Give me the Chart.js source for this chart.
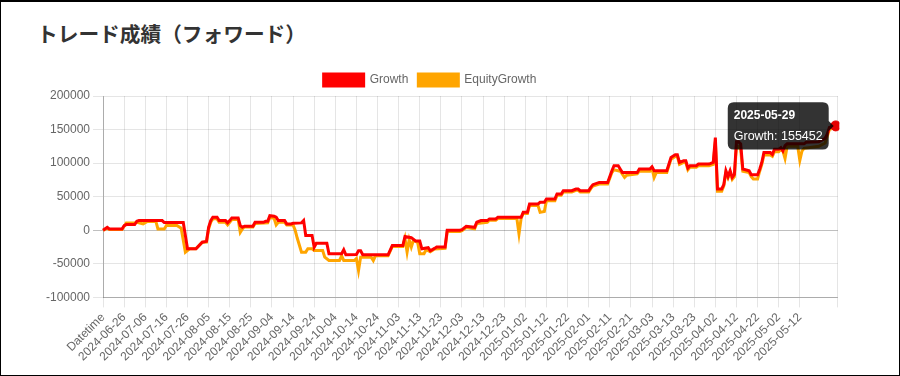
<!DOCTYPE html>
<html>
<head>
<meta charset="utf-8">
<script src="https://cdn.jsdelivr.net/npm/chart.js@4.4.1/dist/chart.umd.min.js"></script>
<style>
  html, body { margin: 0; padding: 0; background: #fff; }
  .frame { position: relative; width: 900px; height: 376px; box-sizing: border-box;
           border: 1px solid #000; border-top-width: 2px; overflow: hidden; }
  h2 { position: absolute; left: 36px; top: 20px; margin: 0; font: bold 20.7px/23px "Noto Sans CJK JP", sans-serif; color: #333; }
  .wrap { position: absolute; left: 42px; top: 62px; width: 808px; height: 303px; }
</style>
</head>
<body>
<div class="frame">
  <h2>トレード成績（フォワード）</h2>
  <div class="wrap"><canvas id="growthChart"></canvas></div>
</div>
<script>
// categories: header row, one row per day, and a trailing empty row
const labels = ['Datetime']
const d = new Date(Date.UTC(2024, 5, 17))
while (d <= new Date(Date.UTC(2025, 4, 29))) {
  labels.push(d.toISOString().slice(0, 10))
  d.setUTCDate(d.getUTCDate() + 1)
}
labels.push('')

// Growth at the points where it changes
const growthDates = ['Datetime',
  '2024-06-18', '2024-06-19', '2024-06-25', '2024-06-26', '2024-06-27', '2024-07-01', '2024-07-02', '2024-07-03',
  '2024-07-14', '2024-07-15', '2024-07-24', '2024-07-26', '2024-07-30', '2024-08-02', '2024-08-04', '2024-08-05',
  '2024-08-06', '2024-08-07', '2024-08-09', '2024-08-10', '2024-08-13', '2024-08-14', '2024-08-15', '2024-08-16',
  '2024-08-19', '2024-08-20', '2024-08-21', '2024-08-22', '2024-08-26', '2024-08-27', '2024-08-31', '2024-09-01',
  '2024-09-02', '2024-09-03', '2024-09-05', '2024-09-06', '2024-09-07', '2024-09-10', '2024-09-11', '2024-09-13',
  '2024-09-14', '2024-09-18', '2024-09-19', '2024-09-20', '2024-09-23', '2024-09-24', '2024-09-25', '2024-09-30',
  '2024-10-01', '2024-10-07', '2024-10-08', '2024-10-09', '2024-10-14', '2024-10-15', '2024-10-16', '2024-10-17',
  '2024-10-29', '2024-10-31', '2024-11-05', '2024-11-06', '2024-11-09', '2024-11-11', '2024-11-13', '2024-11-14',
  '2024-11-17', '2024-11-18', '2024-11-20', '2024-11-21', '2024-11-25', '2024-11-26', '2024-12-02', '2024-12-03',
  '2024-12-05', '2024-12-09', '2024-12-10', '2024-12-12', '2024-12-15', '2024-12-16', '2024-12-19', '2024-12-20',
  '2024-12-31', '2025-01-01', '2025-01-03', '2025-01-04', '2025-01-08', '2025-01-09', '2025-01-11', '2025-01-12',
  '2025-01-16', '2025-01-17', '2025-01-19', '2025-01-20', '2025-01-24', '2025-01-26', '2025-01-27', '2025-01-28',
  '2025-02-01', '2025-02-02', '2025-02-03', '2025-02-06', '2025-02-10', '2025-02-12', '2025-02-13', '2025-02-15',
  '2025-02-16', '2025-02-17', '2025-02-24', '2025-02-25', '2025-03-02', '2025-03-03', '2025-03-04', '2025-03-10',
  '2025-03-12', '2025-03-14', '2025-03-15', '2025-03-16', '2025-03-18', '2025-03-19', '2025-03-20', '2025-03-21',
  '2025-03-24', '2025-03-25', '2025-03-30', '2025-04-01', '2025-04-02', '2025-04-03', '2025-04-05', '2025-04-06',
  '2025-04-07', '2025-04-08', '2025-04-09', '2025-04-10', '2025-04-11', '2025-04-12', '2025-04-13', '2025-04-14',
  '2025-04-15', '2025-04-18', '2025-04-19', '2025-04-22', '2025-04-23', '2025-04-24', '2025-04-25', '2025-04-28',
  '2025-04-29', '2025-04-30', '2025-05-02', '2025-05-03', '2025-05-04', '2025-05-05', '2025-05-06', '2025-05-14',
  '2025-05-15', '2025-05-21', '2025-05-24', '2025-05-25', '2025-05-26', '2025-05-29']
const growthValues = [0,
  4500, 2000, 2000, 7000, 8500, 8500, 13400, 14400,
  14400, 11400, 11400, -27600, -27600, -17800, -16500, 4400,
  14400, 19400, 19400, 14400, 14400, 11000, 14400, 18400,
  18400, 7000, 4500, 6000, 6000, 11900, 11900, 13400,
  13400, 21800, 21000, 19400, 14400, 14400, 9500, 9500,
  10500, 11000, 14400, -7900, -7900, -25200, -19300, -19300,
  -35000, -35000, -29100, -36500, -36000, -30600, -30600, -36500,
  -36500, -22700, -22700, -9400, -11000, -16000, -16000, -27600,
  -26000, -30600, -27000, -25000, -25000, 0, 0, 1000,
  6000, 4500, 11900, 14400, 14400, 16900, 16900, 19300,
  19300, 26700, 26700, 39200, 39200, 41600, 41600, 46600,
  46600, 54000, 54000, 59000, 59000, 61500, 61500, 59000,
  59000, 63900, 67900, 71300, 71300, 88700, 96100, 96100,
  91000, 86100, 86100, 91200, 91200, 94600, 88700, 88700,
  108400, 112400, 112400, 101000, 103500, 103500, 92700, 96100,
  96100, 98600, 98600, 101000, 138100, 61500, 61500, 68000,
  88700, 80000, 88700, 78700, 83000, 131700, 131700, 128700,
  91200, 88700, 82700, 82700, 91000, 101000, 115800, 115800,
  113000, 120800, 120800, 123000, 118000, 126000, 128700, 128700,
  131000, 132000, 137000, 143000, 153000, 155452]

// EquityGrowth
const equityDates = ['Datetime',
  '2024-06-18', '2024-06-19', '2024-06-25', '2024-06-26', '2024-06-27', '2024-07-01', '2024-07-02', '2024-07-05',
  '2024-07-07', '2024-07-11', '2024-07-12', '2024-07-15', '2024-07-16', '2024-07-21', '2024-07-23', '2024-07-25',
  '2024-07-27', '2024-07-30', '2024-08-02', '2024-08-04', '2024-08-05', '2024-08-06', '2024-08-07', '2024-08-09',
  '2024-08-10', '2024-08-13', '2024-08-14', '2024-08-15', '2024-08-16', '2024-08-19', '2024-08-20', '2024-08-21',
  '2024-08-22', '2024-08-26', '2024-08-27', '2024-09-02', '2024-09-03', '2024-09-05', '2024-09-06', '2024-09-07',
  '2024-09-10', '2024-09-11', '2024-09-14', '2024-09-15', '2024-09-16', '2024-09-18', '2024-09-20', '2024-09-21',
  '2024-09-23', '2024-09-24', '2024-09-28', '2024-09-29', '2024-10-01', '2024-10-06', '2024-10-07', '2024-10-08',
  '2024-10-13', '2024-10-14', '2024-10-15', '2024-10-16', '2024-10-21', '2024-10-22', '2024-10-23', '2024-10-29',
  '2024-10-31', '2024-11-05', '2024-11-06', '2024-11-07', '2024-11-08', '2024-11-09', '2024-11-10', '2024-11-12',
  '2024-11-13', '2024-11-15', '2024-11-16', '2024-11-18', '2024-11-20', '2024-11-25', '2024-11-26', '2024-12-02',
  '2024-12-03', '2024-12-05', '2024-12-09', '2024-12-10', '2024-12-15', '2024-12-16', '2024-12-19', '2024-12-20',
  '2024-12-29', '2024-12-30', '2024-12-31', '2025-01-01', '2025-01-03', '2025-01-04', '2025-01-08', '2025-01-09',
  '2025-01-11', '2025-01-12', '2025-01-16', '2025-01-17', '2025-01-19', '2025-01-20', '2025-01-24', '2025-01-26',
  '2025-01-27', '2025-01-28', '2025-02-01', '2025-02-02', '2025-02-03', '2025-02-06', '2025-02-10', '2025-02-12',
  '2025-02-13', '2025-02-15', '2025-02-16', '2025-02-18', '2025-02-19', '2025-02-24', '2025-02-25', '2025-03-02',
  '2025-03-03', '2025-03-04', '2025-03-05', '2025-03-10', '2025-03-12', '2025-03-14', '2025-03-15', '2025-03-16',
  '2025-03-18', '2025-03-19', '2025-03-20', '2025-03-21', '2025-03-24', '2025-03-25', '2025-03-30', '2025-04-01',
  '2025-04-02', '2025-04-03', '2025-04-05', '2025-04-06', '2025-04-07', '2025-04-08', '2025-04-09', '2025-04-10',
  '2025-04-11', '2025-04-12', '2025-04-13', '2025-04-14', '2025-04-15', '2025-04-18', '2025-04-19', '2025-04-20',
  '2025-04-22', '2025-04-23', '2025-04-24', '2025-04-25', '2025-04-28', '2025-04-29', '2025-04-30', '2025-05-02',
  '2025-05-03', '2025-05-04', '2025-05-05', '2025-05-06', '2025-05-11', '2025-05-12', '2025-05-13', '2025-05-14',
  '2025-05-21', '2025-05-24', '2025-05-25', '2025-05-26', '2025-05-29']
const equityValues = [0,
  3000, 1000, 1000, 6000, 11000, 11000, 12000, 9500,
  13000, 13500, 2000, 2000, 7000, 7000, 3000, -32600,
  -27600, -27600, -17800, -17500, 2000, 12000, 17000, 17000,
  12000, 12000, 8000, 12000, 16000, 16000, -3000, 2000,
  5000, 5000, 10000, 11000, 19000, 18000, 8000, 12000,
  12000, 8000, 8000, 0, -11900, -32600, -32600, -27600,
  -27600, -30000, -30000, -40000, -45000, -45000, -38000, -45000,
  -45000, -42000, -60000, -40000, -40000, -45000, -38000, -38000,
  -24000, -24000, -12000, -32600, -14000, -25000, -15000, -18000,
  -35000, -35000, -29000, -32000, -28000, -27000, -2000, -2000,
  -500, 4000, 2000, 10000, 12000, 15000, 15000, 17500,
  17500, -5400, 17500, 25000, 25000, 37000, 37000, 26700,
  28000, 44000, 44000, 52000, 52000, 57000, 57000, 59500,
  59500, 57000, 57000, 62000, 66000, 69000, 69000, 86000,
  90000, 88700, 88000, 78700, 82000, 84000, 88000, 88000,
  92000, 78700, 86000, 86000, 106000, 110000, 110000, 98000,
  101000, 101000, 90000, 94000, 94000, 96000, 96000, 98000,
  132000, 58000, 58000, 66000, 86000, 78000, 86000, 76000,
  80000, 125000, 125000, 120000, 88000, 86000, 80000, 76300,
  76300, 88000, 98000, 112000, 112000, 110000, 117000, 117000,
  120000, 118000, 107000, 125000, 125000, 104000, 118000, 122000,
  125000, 130000, 140000, 150000, 154000]

const yTicks = { min: -100000, max: 200000, step: 50000 }

Chart.defaults.font.family = "'Liberation Sans', Arial, sans-serif"
Chart.defaults.font.size = 12
Chart.defaults.color = '#666'

const toPoints = (dates, values) => dates.map((x, i) => ({ x, y: values[i] }))
const lastLabel = labels.length - 1

const chart = new Chart(document.getElementById('growthChart'), {
  type: 'line',
  data: {
    labels,
    datasets: [{
      label: 'Growth',
      data: toPoints(growthDates, growthValues),
      borderColor: '#ff0000',
      backgroundColor: '#ff0000',
      borderWidth: 3,
      pointRadius: 0,
      pointHoverRadius: 5,
      pointHoverBorderWidth: 1,
      tension: 0,
      fill: false
    }, {
      label: 'EquityGrowth',
      data: toPoints(equityDates, equityValues),
      borderColor: '#ffa500',
      backgroundColor: '#ffa500',
      borderWidth: 3,
      pointRadius: 0,
      pointHoverRadius: 5,
      tension: 0,
      fill: false
    }]
  },
  options: {
    responsive: true,
    maintainAspectRatio: false,
    animation: false,
    events: [],
    plugins: {
      legend: {
        labels: { boxWidth: 40, boxHeight: 12, padding: 10, color: '#666' }
      },
      tooltip: {
        backgroundColor: 'rgba(0,0,0,0.8)',
        titleFont: { weight: 'bold', size: 12 },
        bodyFont: { size: 12.5 },
        padding: 6,
        cornerRadius: 6,
        caretSize: 5,
        displayColors: false,
        callbacks: {
          label: c => c.dataset.label + ': ' + c.parsed.y
        }
      }
    },
    scales: {
      x: {
        grid: { color: 'rgba(0,0,0,0.1)', tickLength: 10 },
        border: { color: 'rgba(0,0,0,0.25)' },
        ticks: {
          autoSkip: false,
          minRotation: 45,
          maxRotation: 45,
          callback: (v, i) => {
            if (i === lastLabel) return ''
            return (i % 10 === 0 && i <= 330) ? labels[i] : null
          }
        }
      },
      y: {
        min: yTicks.min,
        max: yTicks.max,
        grid: {
          color: c => c.tick && c.tick.value === 0 ? 'rgba(0,0,0,0.25)' : 'rgba(0,0,0,0.1)',
          tickLength: 10
        },
        border: { color: 'rgba(0,0,0,0.25)' },
        ticks: { stepSize: yTicks.step, callback: v => String(v) }
      }
    }
  }
})

// the legend sits a little left of the canvas centre in the screenshot
const legendDraw = chart.legend.draw.bind(chart.legend)
chart.legend.draw = function () {
  this.ctx.save()
  this.ctx.translate(-17, 0)
  legendDraw()
  this.ctx.restore()
}

// show the tooltip on the last Growth point, as in the screenshot
const lastIdx = growthDates.length - 1
const pt = chart.getDatasetMeta(0).data[lastIdx]
chart.setActiveElements([{ datasetIndex: 0, index: lastIdx }])
chart.tooltip.setActiveElements([{ datasetIndex: 0, index: lastIdx }], { x: pt.x, y: pt.y })
chart.update()
</script>
</body>
</html>
